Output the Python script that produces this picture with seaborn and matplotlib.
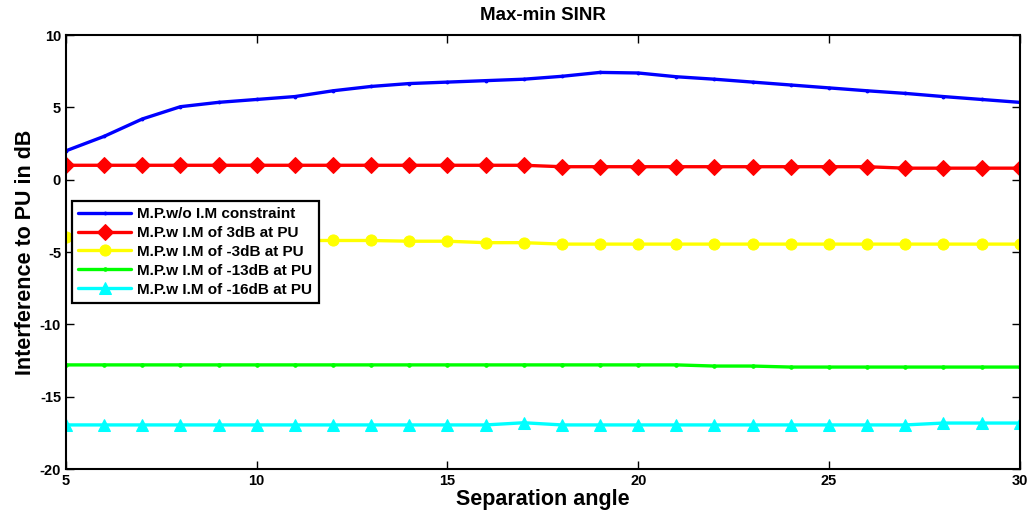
import matplotlib
matplotlib.use("Agg")
import matplotlib.pyplot as plt
import seaborn as sns
import pandas as pd

# Separation angle (x axis)
angles = list(range(5, 31))

# Interference to PU in dB, one list per scheme
no_constraint = [2.0, 3.0, 4.2, 5.05, 5.35, 5.55, 5.75, 6.15, 6.45, 6.65, 6.75, 6.85, 6.95,
                 7.15, 7.42, 7.38, 7.12, 6.95, 6.75, 6.55, 6.35, 6.15, 5.97, 5.75, 5.55, 5.35]
im_3db = [1.0] * 13 + [0.9] * 9 + [0.8] * 4
im_m3db = [-3.95, -4.0, -4.05, -4.1, -4.15, -4.2, -4.2, -4.2, -4.2, -4.25, -4.25, -4.35, -4.35,
           -4.45, -4.45, -4.45, -4.45, -4.45, -4.45, -4.45, -4.45, -4.45, -4.45, -4.45, -4.45, -4.45]
im_m13db = [-12.8] * 17 + [-12.88] * 2 + [-12.95] * 7
im_m16db = [-16.95] * 12 + [-16.8] + [-16.95] * 10 + [-16.82] * 3

labels = [
    "M.P.w/o I.M constraint",
    "M.P.w I.M of 3dB at PU",
    "M.P.w I.M of -3dB at PU",
    "M.P.w I.M of -13dB at PU",
    "M.P.w I.M of -16dB at PU",
]
colors = ["#0000ff", "#ff0000", "#ffff00", "#00ff00", "#00ffff"]
markers = [".", "D", "o", ".", "^"]
marker_sizes = [4, 8, 8, 5, 8]

sns.set_style("ticks")
plt.rcParams["font.family"] = ["Liberation Sans", "DejaVu Sans"]
plt.rcParams["font.weight"] = "bold"
plt.rcParams["axes.unicode_minus"] = False
plt.rcParams["text.color"] = "black"
plt.rcParams["axes.labelcolor"] = "black"
plt.rcParams["xtick.color"] = "black"
plt.rcParams["ytick.color"] = "black"

fig = plt.figure(figsize=(10.31, 5.16), dpi=100)
ax = fig.add_axes([0.064, 0.091, 0.925, 0.841])

series = [no_constraint, im_3db, im_m3db, im_m13db, im_m16db]
for vals, lab, col, mk, ms in zip(series, labels, colors, markers, marker_sizes):
    df = pd.DataFrame({"angle": angles, "value": vals})
    sns.lineplot(data=df, x="angle", y="value", ax=ax, color=col, marker=mk,
                 markersize=ms, markeredgecolor=col, linewidth=2.4, label=lab)

ax.set_xlim(5, 30)
ax.set_ylim(-20, 10)
ax.set_xticks(range(5, 31, 5))
ax.set_yticks(range(-20, 11, 5))
ax.tick_params(direction="in", length=6, width=1, top=True, right=True, labelsize=10.5)
for lbl in ax.get_xticklabels() + ax.get_yticklabels():
    lbl.set_fontweight("bold")
for sp in ax.spines.values():
    sp.set_linewidth(1.5)
    sp.set_color("black")

ax.set_title("Max-min SINR", fontsize=13.5, fontweight="bold", pad=11)
ax.set_xlabel("Separation angle", fontsize=15.5, fontweight="bold", labelpad=1)
ax.set_ylabel("Interference to PU in dB", fontsize=15.5, fontweight="bold", labelpad=3)

leg = ax.legend(loc="upper left", bbox_to_anchor=(0.006, 0.618), borderaxespad=0,
                frameon=True, fancybox=False, framealpha=1, edgecolor="black",
                prop={"size": 11, "weight": "bold"}, handlelength=3.5,
                labelspacing=0.32, borderpad=0.4, handletextpad=0.4)
leg.get_frame().set_linewidth(1.6)

fig.savefig("out.png", dpi=100)
